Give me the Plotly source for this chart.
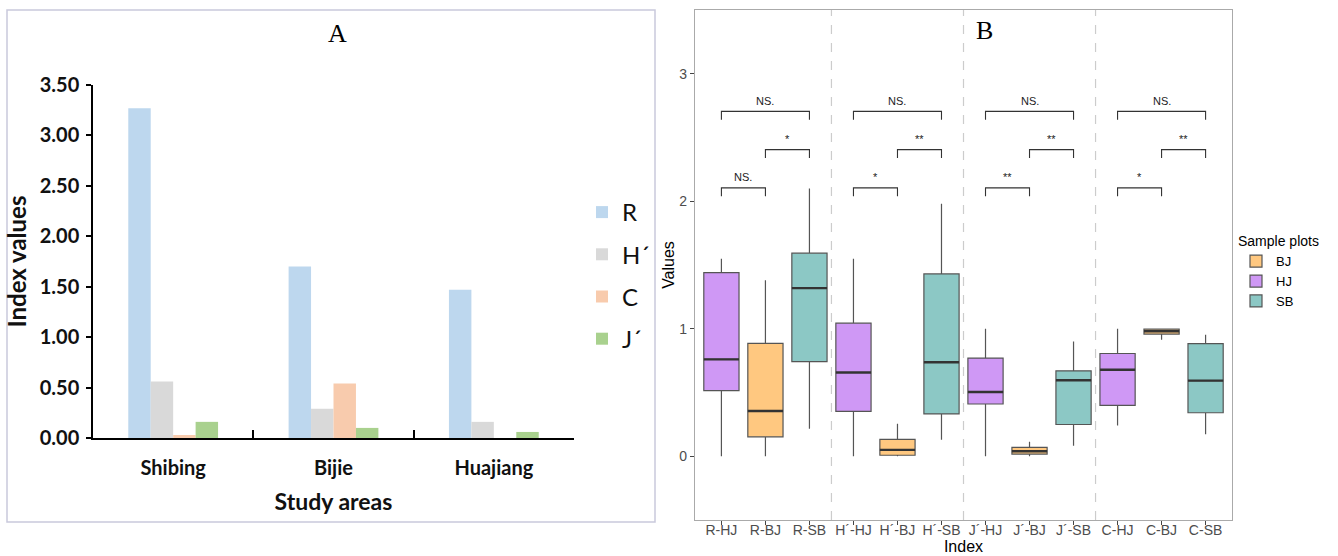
import plotly.graph_objects as go

# ---------------- Panel A data ----------------
areas = ["Shibing", "Bijie", "Huajiang"]
idx_names = ["R", "H´", "C", "J´"]
val_R = [3.27, 1.70, 1.47]
val_H = [0.56, 0.29, 0.16]
val_C = [0.03, 0.54, 0.0]
val_J = [0.16, 0.10, 0.06]
bar_colors = ["#BDD7EE", "#D9D9D9", "#F8CBAD", "#A9D18E"]
a_yticks = [0, 0.5, 1.0, 1.5, 2.0, 2.5, 3.0, 3.5]

# ---------------- Panel B data ----------------
b_categories = ["R-HJ", "R-BJ", "R-SB", "H´-HJ", "H´-BJ", "H´-SB",
                "J´-HJ", "J´-BJ", "J´-SB", "C-HJ", "C-BJ", "C-SB"]
hj_pos = [0, 3, 6, 9]
bj_pos = [1, 4, 7, 10]
sb_pos = [2, 5, 8, 11]
hj_low = [0.0, 0.0, 0.0, 0.241]
hj_q1 = [0.515, 0.352, 0.41, 0.399]
hj_med = [0.76, 0.657, 0.504, 0.679]
hj_q3 = [1.44, 1.044, 0.77, 0.806]
hj_up = [1.55, 1.55, 1.0, 1.0]
bj_low = [0.0, 0.0, 0.0, 0.914]
bj_q1 = [0.152, 0.008, 0.017, 0.958]
bj_med = [0.355, 0.05, 0.039, 0.98]
bj_q3 = [0.886, 0.133, 0.069, 0.997]
bj_up = [1.38, 0.255, 0.114, 1.0]
sb_low = [0.216, 0.13, 0.083, 0.172]
sb_q1 = [0.742, 0.332, 0.249, 0.341]
sb_med = [1.319, 0.737, 0.596, 0.593]
sb_q3 = [1.593, 1.43, 0.67, 0.884]
sb_up = [2.10, 1.98, 0.90, 0.953]
box_colors = {"BJ": "#FFC880", "HJ": "#CF98F5", "SB": "#8CC8C5"}
# significance comparisons: (from, to, label, level)
comparisons = [
    (0, 1, "NS.", 0), (1, 2, "*", 1), (0, 2, "NS.", 2),
    (3, 4, "*", 0), (4, 5, "**", 1), (3, 5, "NS.", 2),
    (6, 7, "**", 0), (7, 8, "**", 1), (6, 8, "NS.", 2),
    (9, 10, "*", 0), (10, 11, "**", 1), (9, 11, "NS.", 2),
]
level_heights = [2.105, 2.405, 2.705]
separators = [2.5, 5.5, 8.5]

W, H = 1338, 556
def px_x(p):
    return p / W
def px_y(p):
    return 1 - p / H

fig = go.Figure()

# ---- Panel A bars ----
for name, vals, col in zip(idx_names, [val_R, val_H, val_C, val_J], bar_colors):
    fig.add_trace(go.Bar(
        x=areas, y=vals, name=name, marker=dict(color=col, line=dict(width=0)),
        xaxis="x", yaxis="y", legend="legend", legendgroup=name,
    ))

# ---- Panel B boxes ----
groups = [
    ("BJ", bj_pos, bj_low, bj_q1, bj_med, bj_q3, bj_up),
    ("HJ", hj_pos, hj_low, hj_q1, hj_med, hj_q3, hj_up),
    ("SB", sb_pos, sb_low, sb_q1, sb_med, sb_q3, sb_up),
]
for name, pos, lo, q1, med, q3, up in groups:
    fig.add_trace(go.Box(
        x=pos, lowerfence=lo, q1=q1, median=med, q3=q3, upperfence=up,
        name=name, fillcolor=box_colors[name],
        line=dict(color="#555555", width=1.2), whiskerwidth=0, width=0.8,
        boxpoints=False, xaxis="x2", yaxis="y2", legend="legend2",
        hoverinfo="skip",
    ))
for name, pos, lo, q1, med, q3, up in groups:
    xs, ys = [], []
    for p, m in zip(pos, med):
        xs += [p - 0.4, p + 0.4, None]
        ys += [m, m, None]
    fig.add_trace(go.Scatter(
        x=xs, y=ys, mode="lines", line=dict(color="#333333", width=2.4),
        showlegend=False, xaxis="x2", yaxis="y2", hoverinfo="skip",
    ))

shapes = []
annotations = []
# separators
for s in separators:
    shapes.append(dict(type="line", xref="x2", yref="y2", x0=s, x1=s, y0=-0.5, y1=3.5,
                       line=dict(color="#CCCCCC", width=1.2, dash="dash"), layer="below"))
# brackets
for a, b, lab, lvl in comparisons:
    h = level_heights[lvl]
    shapes.append(dict(type="path", xref="x2", yref="y2",
                       path=f"M {a},{h-0.065} L {a},{h} L {b},{h} L {b},{h-0.065}",
                       line=dict(color="#333333", width=1.1)))
    annotations.append(dict(xref="x2", yref="y2", x=(a + b) / 2, y=h + 0.02, text=lab,
                            showarrow=False, yanchor="bottom",
                            font=dict(family="Liberation Sans", size=11, color="#222222")))

# frame around panel A
shapes.append(dict(type="rect", xref="paper", yref="paper",
                   x0=px_x(7), x1=px_x(655), y0=px_y(522), y1=px_y(10),
                   line=dict(color="#C9C9DC", width=1.5), layer="below"))

annotations.append(dict(xref="paper", yref="paper", x=px_x(337), y=px_y(34), text="A",
                        xanchor="center", yanchor="middle",
                        showarrow=False, font=dict(family="Liberation Serif", size=26, color="black")))
annotations.append(dict(xref="paper", yref="paper", x=px_x(984), y=px_y(31), text="B",
                        xanchor="center", yanchor="middle",
                        showarrow=False, font=dict(family="Liberation Serif", size=26, color="black")))

fig.update_layout(
    width=W, height=H, margin=dict(l=0, r=0, t=0, b=0, autoexpand=False),
    paper_bgcolor="white", plot_bgcolor="white",
    barmode="group", bargap=0.44, bargroupgap=0,
    boxmode="overlay",
    shapes=shapes, annotations=annotations,
    xaxis=dict(domain=[px_x(93), px_x(574)], anchor="y", type="category", automargin=False,
               showline=True, linecolor="black", linewidth=1.5,
               ticks="inside", tickson="boundaries", ticklen=8, tickcolor="black", tickwidth=1.5,
               ticklabelstandoff=11,
               tickfont=dict(family="Lato", size=20, color="#111111", weight="bold"),
               title=dict(text="Study areas", standoff=16,
                          font=dict(family="Lato", size=23, color="#111111", weight="bold")),
               showgrid=False, zeroline=False, fixedrange=True),
    yaxis=dict(domain=[px_y(438), px_y(85)], anchor="x", range=[0, 3.5], automargin=False,
               tickvals=a_yticks, tickformat=".2f",
               showline=True, linecolor="black", linewidth=1.5,
               ticks="outside", ticklen=5, tickcolor="black", tickwidth=1.5,
               ticklabelstandoff=3,
               tickfont=dict(family="Lato", size=20, color="#111111", weight="bold"),
               title=dict(text="Index values", standoff=6,
                          font=dict(family="Lato", size=24, color="#111111", weight="bold")),
               showgrid=False, zeroline=False),
    xaxis2=dict(domain=[px_x(695), px_x(1232)], anchor="y2", range=[-0.6, 11.6], automargin=False,
                tickvals=list(range(len(b_categories))), ticktext=b_categories,
                showline=True, mirror=True, linecolor="#AAAAAA", linewidth=1.2,
                ticks="outside", ticklen=4, tickcolor="#444444",
                ticklabelstandoff=-7,
                tickfont=dict(family="Liberation Sans", size=14, color="#4D4D4D"),
                title=dict(text="Index", standoff=3,
                           font=dict(family="Liberation Sans", size=16, color="black")),
                showgrid=False, zeroline=False),
    yaxis2=dict(domain=[px_y(520), px_y(10)], anchor="x2", range=[-0.5, 3.5], automargin=False,
                tickvals=[0, 1, 2, 3],
                showline=True, mirror=True, linecolor="#AAAAAA", linewidth=1.2,
                ticks="outside", ticklen=4, tickcolor="#444444",
                tickfont=dict(family="Liberation Sans", size=14, color="#4D4D4D"),
                title=dict(text="Values", standoff=0,
                           font=dict(family="Liberation Sans", size=16, color="black")),
                showgrid=False, zeroline=False),
    legend=dict(x=px_x(582), y=px_y(190), xanchor="left", yanchor="top",
                font=dict(family="Lato", size=24, color="#111111"),
                tracegroupgap=8, bgcolor="rgba(0,0,0,0)", traceorder="grouped"),
    legend2=dict(x=px_x(1236), y=px_y(228), xanchor="left", yanchor="top",
                 title=dict(text="Sample plots", font=dict(family="Liberation Sans", size=14, color="black")),
                 font=dict(family="Liberation Sans", size=13, color="black"),
                 bgcolor="rgba(0,0,0,0)", tracegroupgap=0),
)

fig.write_html("out.html", config={"displayModeBar": False},
               post_script="document.body.style.margin='0px';")
